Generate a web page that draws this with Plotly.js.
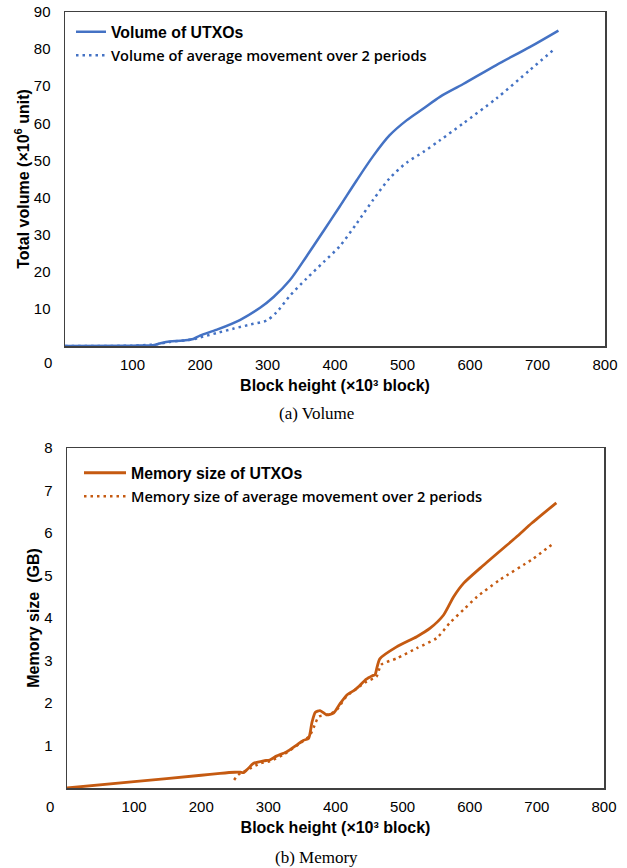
<!DOCTYPE html>
<html>
<head>
<meta charset="utf-8">
<script src="https://cdn.plot.ly/plotly-3.0.1.min.js"></script>
<style>html,body{margin:0;padding:0;background:#fff;}#chart{width:627px;height:868px;}</style>
</head>
<body>
<div id="chart"></div>
<script>
// ---- (a) Volume ----
const volUtxoX = [0, 100, 130, 137, 145, 155, 175, 190, 200, 225, 259, 289, 309, 333, 358, 383, 407, 432, 457, 481, 506, 531, 556, 590, 639, 689, 731];
const volUtxoY = [0, 0.1, 0.2, 0.5, 0.9, 1.2, 1.5, 1.9, 2.8, 4.4, 7.0, 10.3, 13.2, 17.7, 24.2, 31, 37.6, 44.6, 51.3, 56.8, 60.8, 64, 67.2, 70.6, 75.7, 80.6, 85];
const volAvgX = [0, 100, 137, 155, 190, 200, 225, 250, 275, 299, 313, 333, 358, 383, 407, 432, 457, 481, 506, 531, 556, 590, 639, 689, 725];
const volAvgY = [0, 0.1, 0.5, 1.1, 1.8, 2.3, 3.5, 4.7, 5.8, 6.9, 9.0, 13.5, 18.2, 22.6, 26.9, 33, 39.5, 45.2, 49.4, 52.3, 55.5, 60, 66.7, 74.4, 80];

// ---- (b) Memory ----
const memUtxoX = [0, 100, 200, 228, 250, 258, 263, 270, 278, 293, 302, 312, 327, 342, 352, 360, 365, 370, 377, 387, 397, 407, 417, 430, 446, 455, 459, 462, 466, 491, 521, 541, 561, 576, 591, 616, 669, 693, 729];
const memUtxoY = [0, 0.15, 0.3, 0.345, 0.37, 0.37, 0.36, 0.46, 0.58, 0.64, 0.66, 0.75, 0.85, 1.01, 1.12, 1.17, 1.55, 1.78, 1.82, 1.72, 1.76, 1.99, 2.19, 2.32, 2.56, 2.64, 2.67, 2.85, 3.04, 3.32, 3.56, 3.76, 4.07, 4.5, 4.82, 5.18, 5.9, 6.24, 6.71];
const memAvgX = [249, 255, 273, 288, 302, 322, 347, 362, 370, 375, 392, 402, 416, 446, 461, 468, 491, 521, 551, 570, 591, 611, 644, 693, 725];
const memAvgY = [0.19, 0.31, 0.46, 0.58, 0.63, 0.78, 1.05, 1.24, 1.52, 1.68, 1.74, 1.84, 2.15, 2.5, 2.62, 2.9, 3.05, 3.29, 3.53, 3.88, 4.2, 4.5, 4.89, 5.38, 5.76];

const xTicks = [100, 200, 300, 400, 500, 600, 700, 800];
const volTicks = [10, 20, 30, 40, 50, 60, 70, 80, 90];
const memTicks = [1, 2, 3, 4, 5, 6, 7, 8];

const blue = '#4472C4';
const orange = '#C55A11';
const altName = s => '<span style="font-family:\'Open Sans\';font-weight:600;font-size:14.6px">' + s + '</span>';

const traces = [
  {x: volUtxoX, y: volUtxoY, xaxis: 'x', yaxis: 'y', mode: 'lines', name: '<b>Volume of UTXOs</b>',
   line: {color: blue, width: 2.5, shape: 'spline', smoothing: 0.9}, legend: 'legend'},
  {x: volAvgX, y: volAvgY, xaxis: 'x', yaxis: 'y', mode: 'lines', name: altName('Volume of average movement over 2 periods'),
   line: {color: blue, width: 2.5, dash: '2.5px,4px', shape: 'spline', smoothing: 0.8}, legend: 'legend'},
  {x: memUtxoX, y: memUtxoY, xaxis: 'x2', yaxis: 'y2', mode: 'lines', name: '<b>Memory size of UTXOs</b>',
   line: {color: orange, width: 2.8, shape: 'spline', smoothing: 0.6}, legend: 'legend2'},
  {x: memAvgX, y: memAvgY, xaxis: 'x2', yaxis: 'y2', mode: 'lines', name: altName('Memory size of average movement over 2 periods'),
   line: {color: orange, width: 2.5, dash: '2.5px,4px', shape: 'spline', smoothing: 0.6}, legend: 'legend2'}
];

const tickFont = {family: 'Liberation Sans, Arial, sans-serif', size: 15, color: '#000'};
const titleFont = {family: 'Liberation Sans, Arial, sans-serif', size: 16, color: '#000'};
const legendFont = {family: 'Liberation Sans, Arial, sans-serif', size: 15.8, color: '#000'};
const W = 627, H = 868;

function xAx(domain, anchor) {
  return {domain: domain, anchor: anchor, range: [0, 800], tickvals: xTicks, ticks: '', showgrid: false, zeroline: false,
    showline: true, mirror: true, linecolor: '#404040', linewidth: 1.5, tickfont: tickFont,
    ticklabelstandoff: 4,
    title: {text: '<b>Block height (×10³ block)</b>', font: titleFont, standoff: 8}};
}
function yAx(domain, anchor, range, ticks, title) {
  return {domain: domain, anchor: anchor, range: range, tickvals: ticks, ticks: '', showgrid: false, zeroline: false,
    showline: true, mirror: true, linecolor: '#404040', linewidth: 1.5, tickfont: tickFont,
    ticklabelstandoff: 10,
    title: {text: title, font: titleFont, standoff: 0}};
}

const layout = {
  width: W, height: H,
  margin: {l: 0, r: 0, t: 0, b: 0},
  paper_bgcolor: '#fff', plot_bgcolor: '#fff',
  font: {family: 'Liberation Sans, Arial, sans-serif', color: '#000'},
  xaxis: xAx([65 / W, 605 / W], 'y'),
  yaxis: yAx([1 - 346 / H, 1 - 12 / H], 'x', [0, 90], volTicks, '<b>Total volume (×10<sup>6</sup> unit)</b>'),
  xaxis2: xAx([67 / W, 604 / W], 'y2'),
  yaxis2: yAx([1 - 788 / H, 1 - 448 / H], 'x2', [0, 8], memTicks, '<b>Memory size  (GB)</b>'),
  legend: {x: 71 / W, y: 1 - 15 / H, xanchor: 'left', yanchor: 'top', bgcolor: 'rgba(0,0,0,0)',
    font: legendFont, tracegroupgap: 0},
  legend2: {x: 79 / W, y: 1 - 456 / H, xanchor: 'left', yanchor: 'top', bgcolor: 'rgba(0,0,0,0)',
    font: legendFont, tracegroupgap: 0, itemwidth: 42},
  annotations: [
    {xref: 'paper', yref: 'paper', x: 48 / W, y: 1 - 362 / H, text: '0', showarrow: false, font: tickFont, xanchor: 'center', yanchor: 'middle'},
    {xref: 'paper', yref: 'paper', x: 50 / W, y: 1 - 806 / H, text: '0', showarrow: false, font: tickFont, xanchor: 'center', yanchor: 'middle'},
    {xref: 'paper', yref: 'paper', x: 316 / W, y: 1 - 413 / H, text: '(a) Volume', showarrow: false,
     font: {family: 'Liberation Serif, Times New Roman, serif', size: 17, color: '#000'}, xanchor: 'center', yanchor: 'middle'},
    {xref: 'paper', yref: 'paper', x: 316 / W, y: 1 - 857 / H, text: '(b) Memory', showarrow: false,
     font: {family: 'Liberation Serif, Times New Roman, serif', size: 17, color: '#000'}, xanchor: 'center', yanchor: 'middle'}
  ]
};

Plotly.newPlot('chart', traces, layout, {staticPlot: true, displayModeBar: false});
</script>
</body>
</html>
